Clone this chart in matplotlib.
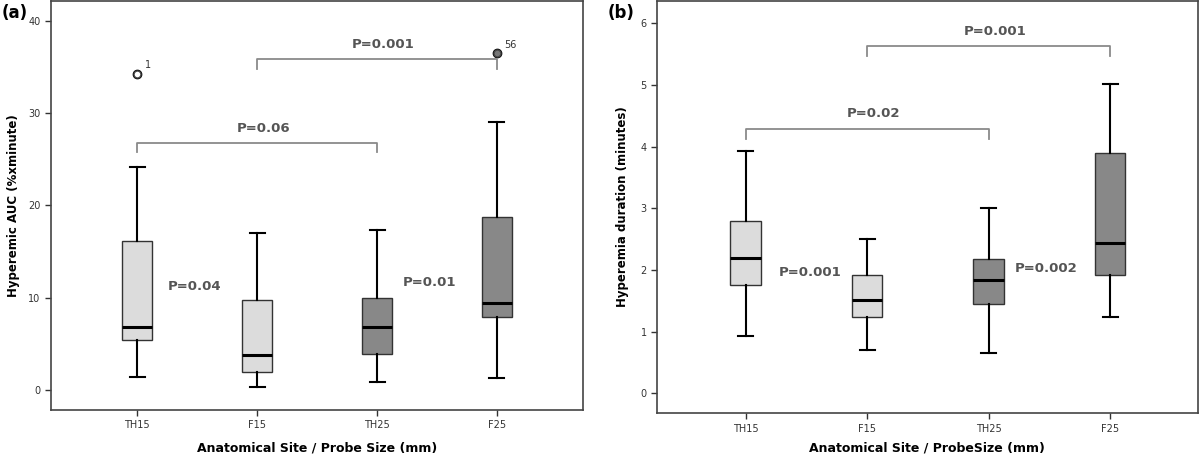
import matplotlib.pyplot as plt

groups = ['TH15', 'F15', 'TH25', 'F25']
box_colors = ['#dcdcdc', '#dcdcdc', '#888888', '#888888']

# panel (a): hyperemic AUC
auc_low = [1.4, 0.3, 0.8, 1.3]
auc_q1 = [5.4, 1.9, 3.9, 7.9]
auc_med = [6.8, 3.8, 6.8, 9.4]
auc_q3 = [16.1, 9.7, 9.9, 18.7]
auc_high = [24.2, 17.0, 17.3, 29.1]
auc_outliers = [[34.3], [], [], [36.5]]
auc_outlier_ids = ['1', '', '', '56']

# panel (b): hyperemia duration
dur_low = [0.93, 0.70, 0.65, 1.24]
dur_q1 = [1.75, 1.23, 1.45, 1.92]
dur_med = [2.20, 1.52, 1.84, 2.43]
dur_q3 = [2.80, 1.92, 2.17, 3.90]
dur_high = [3.92, 2.50, 3.00, 5.02]


def make_stats(low, q1, med, q3, high, fliers=None):
    stats = []
    for i in range(len(groups)):
        stats.append({'whislo': low[i], 'q1': q1[i], 'med': med[i], 'q3': q3[i],
                      'whishi': high[i], 'fliers': fliers[i] if fliers else []})
    return stats


def draw_boxes(ax, stats):
    bp = ax.bxp(stats, positions=[1, 2, 3, 4], widths=0.25, patch_artist=True,
                showfliers=True,
                boxprops=dict(edgecolor='#333333', linewidth=1.0),
                medianprops=dict(color='black', linewidth=2.2),
                whiskerprops=dict(color='black', linewidth=1.5),
                capprops=dict(color='black', linewidth=1.5))
    for patch, c in zip(bp['boxes'], box_colors):
        patch.set_facecolor(c)
    return bp


def bracket(ax, x1, x2, y, drop, text, ty):
    ax.plot([x1, x1, x2, x2], [y - drop, y, y, y - drop], color='#8a8a8a', lw=1.3)
    ax.text((x1 + x2) / 2 + 0.05, ty, text, ha='center', va='center',
            fontsize=9.5, fontweight='bold', color='#555555')


def style(ax):
    for s in ax.spines.values():
        s.set_color('#444444')
        s.set_linewidth(1.2)
    ax.tick_params(axis='both', labelsize=7, colors='#333333', length=4, width=1)
    ax.set_xticks([1, 2, 3, 4])
    ax.set_xticklabels(groups)


fig = plt.figure(figsize=(12, 4.59), dpi=100)

ax1 = fig.add_axes([0.0425, 0.107, 0.4435, 0.891])
draw_boxes(ax1, make_stats(auc_low, auc_q1, auc_med, auc_q3, auc_high, auc_outliers))
ax1.set_xlim(0.28, 4.72)
ax1.set_ylim(-2.2, 42.2)
ax1.set_yticks([0, 10, 20, 30, 40])
style(ax1)
for i, vals in enumerate(auc_outliers):
    for v in vals:
        fc = 'white' if i == 0 else '#777777'
        ax1.plot(i + 1, v, 'o', ms=5, mfc=fc, mec='#444444', mew=1.0)
        ax1.text(i + 1.06, v + 0.6, auc_outlier_ids[i], fontsize=7, color='#333333')
bracket(ax1, 1, 3, 26.8, 1.0, 'P=0.06', 28.4)
bracket(ax1, 2, 4, 35.9, 1.1, 'P=0.001', 37.5)
ax1.text(1.48, 11.2, 'P=0.04', ha='center', va='center', fontsize=9.5,
         fontweight='bold', color='#555555')
ax1.text(3.44, 11.6, 'P=0.01', ha='center', va='center', fontsize=9.5,
         fontweight='bold', color='#555555')
ax1.set_ylabel('Hyperemic AUC (%xminute)', fontsize=8.5, fontweight='bold', labelpad=6)
ax1.set_xlabel('Anatomical Site / Probe Size (mm)', fontsize=9, fontweight='bold',
               labelpad=8)

ax2 = fig.add_axes([0.5475, 0.100, 0.4505, 0.898])
draw_boxes(ax2, make_stats(dur_low, dur_q1, dur_med, dur_q3, dur_high))
ax2.set_xlim(0.27, 4.72)
ax2.set_ylim(-0.32, 6.36)
ax2.set_yticks([0, 1, 2, 3, 4, 5, 6])
style(ax2)
bracket(ax2, 1, 3, 4.29, 0.16, 'P=0.02', 4.53)
bracket(ax2, 2, 4, 5.63, 0.16, 'P=0.001', 5.87)
ax2.text(1.53, 1.96, 'P=0.001', ha='center', va='center', fontsize=9.5,
         fontweight='bold', color='#555555')
ax2.text(3.47, 2.02, 'P=0.002', ha='center', va='center', fontsize=9.5,
         fontweight='bold', color='#555555')
ax2.set_ylabel('Hyperemia duration (minutes)', fontsize=8.5, fontweight='bold', labelpad=8)
ax2.set_xlabel('Anatomical Site / ProbeSize (mm)', fontsize=9, fontweight='bold',
               labelpad=6)

fig.text(0.001, 0.972, '(a)', fontsize=12, fontweight='bold', va='center')
fig.text(0.506, 0.972, '(b)', fontsize=12, fontweight='bold', va='center')

fig.savefig('out.png', dpi=100)
